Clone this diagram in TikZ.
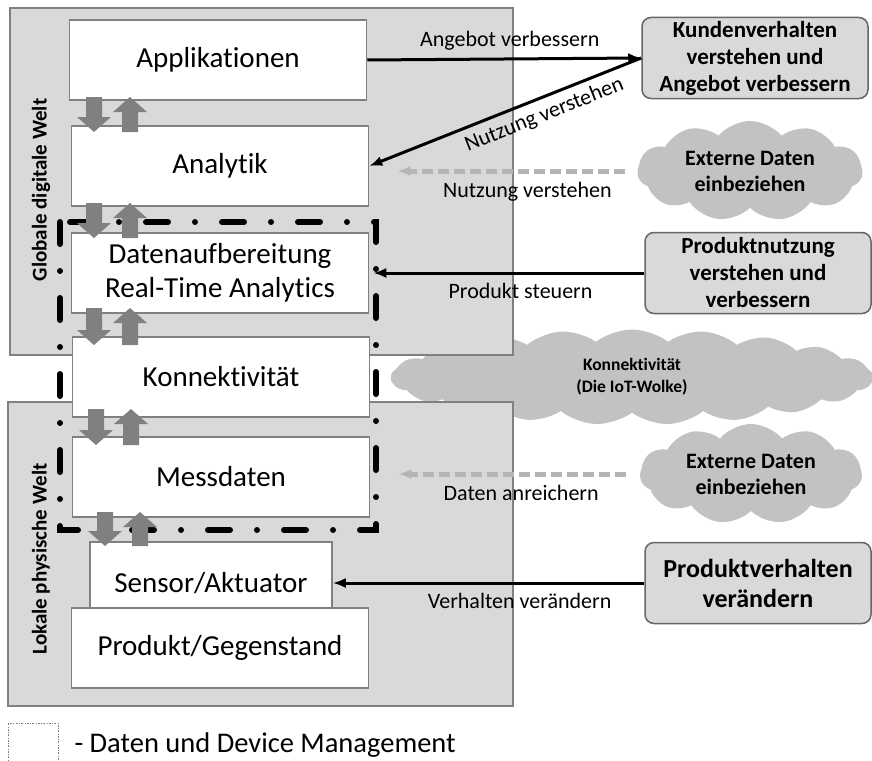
\documentclass[tikz,border=0pt]{standalone}
\usepackage{fontspec}
\setmainfont{Carlito}[Ligatures=NoCommon]
\usetikzlibrary{arrows,arrows.meta}
\usetikzlibrary{shapes.symbols}
\definecolor{weltgrau}{HTML}{D9D9D9}
\definecolor{randgrau}{HTML}{808080}
\definecolor{wolkengrau}{HTML}{C2C2C2}
\definecolor{pfeilgrau}{HTML}{808080}
\definecolor{strichgrau}{HTML}{B5B5B5}

\begin{document}
\begin{tikzpicture}[x=1pt,y=-1pt,>={Latex[length=13pt,width=10pt]},
  ebene/.style={draw=randgrau,line width=1.5pt,fill=white,minimum width=297pt,
    minimum height=80pt,inner sep=0pt,font=\fontsize{29}{34}\selectfont},
  ziel/.style={draw=randgrau!80!black,line width=1.5pt,fill=weltgrau,rounded corners=9pt,
    minimum width=226pt,minimum height=81pt,align=center,inner sep=0pt,
    font=\bfseries\fontsize{23}{27}\selectfont},
  wolke/.style={cloud,cloud puffs=11,cloud puff arc=100,cloud ignores aspect,
    fill=wolkengrau,align=center,inner sep=0pt,font=\bfseries\fontsize{22}{26}\selectfont},
  fluss/.style={->,line width=3pt},
  extern/.style={->,line width=5pt,draw=strichgrau,dash pattern=on 11pt off 5pt},
  marke/.style={font=\fontsize{22}{26}\selectfont},
  blockpfeil/.style={fill=pfeilgrau}]
\useasboundingbox (0,0) rectangle (872,760);

\node[wolke,cloud puffs=21,cloud puff arc=75,minimum width=482pt,minimum height=95pt,
  font=\bfseries\fontsize{17.5}{22}\selectfont] (iot) at (632,377)
  {Konnektivität\\(Die IoT-Wolke)};

\draw[draw=randgrau,line width=1.5pt,fill=weltgrau] (10,8) rectangle (513,355);
\draw[draw=randgrau,line width=1.5pt,fill=weltgrau] (8,402) rectangle (513,706);
\node[rotate=90,font=\bfseries\fontsize{21}{25}\selectfont] (digital) at (41,190)
  {Globale digitale Welt};
\node[rotate=90,font=\bfseries\fontsize{21}{25}\selectfont] (lokal) at (41,559)
  {Lokale physische Welt};

\draw[line width=6pt,line cap=round,dash pattern=on 22pt off 27pt on 0pt off 27pt]
  (60,222) rectangle (376,530);

\node[ebene] (app) at (218,60) {Applikationen};
\node[ebene] (ana) at (220,166) {Analytik};
\node[ebene,align=center] (dat) at (220,273) {Datenaufbereitung\\Real-Time Analytics};
\node[ebene] (kon) at (221,377) {Konnektivität};
\node[ebene] (mes) at (221,477) {Messdaten};
\node[ebene,minimum width=242pt,minimum height=82pt] (sen) at (211,583) {Sensor/Aktuator};
\node[ebene] (pro) at (220,648) {Produkt/Gegenstand};

\foreach \Xd/\Xu/\Ya/\Yb in {94/130/97/132,94/130/203/238,94/130/308/345,
  96/131/409/445,105/140/512/546}
{
  \fill[blockpfeil]
    ({\Xd-8},\Ya) -- ({\Xd+8},\Ya) -- ({\Xd+8},{\Yb-15}) -- ({\Xd+17},{\Yb-15})
    -- (\Xd,\Yb) -- ({\Xd-17},{\Yb-15}) -- ({\Xd-8},{\Yb-15}) -- cycle;
  \fill[blockpfeil]
    ({\Xu-8},\Yb) -- ({\Xu+8},\Yb) -- ({\Xu+8},{\Ya+15}) -- ({\Xu+17},{\Ya+15})
    -- (\Xu,\Ya) -- ({\Xu-17},{\Ya+15}) -- ({\Xu-8},{\Ya+15}) -- cycle;
}

\node[ziel] (kunde) at (755,58) {Kundenverhalten\\verstehen und\\Angebot verbessern};
\node[wolke,minimum width=225pt,minimum height=100pt] (ext1) at (750,171)
  {Externe Daten\\einbeziehen};
\node[ziel] (nutz) at (758,273) {Produktnutzung\\verstehen und\\verbessern};
\node[wolke,minimum width=222pt,minimum height=100pt] (ext2) at (751,474)
  {Externe Daten\\einbeziehen};
\node[ziel,font=\bfseries\fontsize{26}{30}\selectfont] (verh) at (758,583)
  {Produktverhalten\\verändern};

\draw[fluss] (app.east) -- (kunde.west)
  node[marke,pos=0.52,above=4pt] (l1) {Angebot verbessern};
\draw[fluss] (kunde.west) -- (ana.east)
  node[marke,sloped,pos=0.38,below=3pt] (l2) {Nutzung verstehen};
\draw[extern,shorten <=12pt,shorten >=28pt] (ext1.west) -- (ana.east |- ext1.west)
  node[marke,pos=0.41,below=5pt] (l3) {Nutzung verstehen};
\draw[fluss,shorten >=4pt] (nutz.west) -- (dat.east)
  node[marke,pos=0.45,below=5pt] (l4) {Produkt steuern};
\draw[extern,shorten <=14pt,shorten >=28pt] (ext2.west) -- (mes.east |- ext2.west)
  node[marke,pos=0.44,below=5pt] (l5) {Daten anreichern};
\draw[fluss] (verh.west) -- (sen.east)
  node[marke,pos=0.4,below=5pt] (l6) {Verhalten verändern};

\draw[randgrau,line width=0.6pt,dash pattern=on 2pt off 1.5pt on 0.5pt off 1.5pt]
  (8,723) rectangle (58,763);
\node[anchor=west,font=\fontsize{28.5}{32}\selectfont] (legende) at (71,745)
  {- Daten und Device Management};
\end{tikzpicture}
\end{document}
